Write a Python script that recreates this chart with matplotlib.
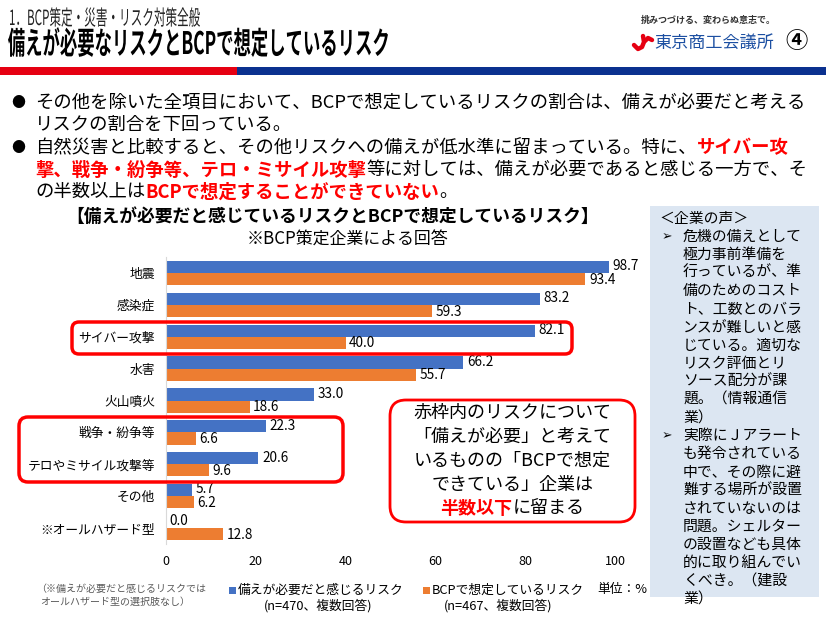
import matplotlib
matplotlib.use('Agg')
import numpy as np
import matplotlib.pyplot as plt
from matplotlib.patches import FancyBboxPatch, Rectangle, PathPatch
from matplotlib.textpath import TextPath
from matplotlib.font_manager import FontProperties
from matplotlib.transforms import Affine2D
from matplotlib.lines import Line2D

plt.rcParams['font.family'] = ['Noto Sans CJK JP', 'DejaVu Sans']

W, H = 826, 620

# データ
categories = ['地震', '感染症', 'サイバー攻撃', '水害', '火山噴火',
              '戦争・紛争等', 'テロやミサイル攻撃等', 'その他', '※オールハザード型']
need = [98.7, 83.2, 82.1, 66.2, 33.0, 22.3, 20.6, 5.7, 0.0]
bcp = [93.4, 59.3, 40.0, 55.7, 18.6, 6.6, 9.6, 6.2, 12.8]
xticks = [0, 20, 40, 60, 80, 100]

legend_need = '備えが必要だと感じるリスク'
legend_bcp = 'BCPで想定しているリスク'
n_need = '(n=470、複数回答)'
n_bcp = '(n=467、複数回答)'

voice_lines = [
    '危機の備えとして', '極力事前準備を', '行っているが、準', '備のためのコスト',
    'ト、工数とのバラ', 'ンスが難しいと感', 'じている。適切な', 'リスク評価とリ',
    'ソース配分が課', '題。（情報通信', '業）',
    '実際にＪアラート', 'も発令されている', '中で、その際に避', '難する場所が設置',
    'されていないのは', '問題。シェルター', 'の設置なども具体', '的に取り組んでい',
    'くべき。（建設', '業）',
]
voice_bullets = [0, 11]

BLUE = '#4472C4'
ORANGE = '#ED7D31'
RED = '#FF0000'

fig = plt.figure(figsize=(W / 100, H / 100), dpi=100)
px = Affine2D().scale(1 / W, 1 / H) + fig.transFigure


def fx(x):
    return x / W


def fy(y):
    return 1 - y / H


def txt(x, y, s, size, **kw):
    kw.setdefault('va', 'center')
    return fig.text(fx(x), fy(y), s, fontsize=size, **kw)


def rich(x, y, parts, size, center=False):
    r = fig.canvas.get_renderer()
    items = []
    for s, color, weight in parts:
        t = txt(0, y, s, size, color=color, fontweight=weight)
        bb = t.get_window_extent(r)
        items.append((t, bb.width))
    if center:
        x = x - sum(w for _, w in items) / 2
    for t, w in items:
        t.set_x(fx(x))
        x += w


def squeezed(x, y, s, size, width, color, bold=True):
    # 縦長フォントの見出し用
    fp = FontProperties(family='Noto Sans CJK JP', weight='bold' if bold else 'normal')
    tp = TextPath((0, 0), s, size=size, prop=fp)
    ext = tp.get_extents()
    tr = Affine2D().translate(-ext.x0, 0).scale(width / ext.width, 1).translate(x, H - y) + px
    fig.add_artist(PathPatch(tp, transform=tr, fc=color, lw=0))


def rbox(x0, y0, x1, y1, r, **kw):
    p = FancyBboxPatch((x0, H - y1), x1 - x0, y1 - y0,
                       boxstyle=f'round,pad=0,rounding_size={r}', transform=px, **kw)
    fig.add_artist(p)


# ヘッダー
squeezed(10, 25, '1．BCP策定・災害・リスク対策全般', 21, 190, '#222222', bold=False)
squeezed(8, 54, '備えが必要なリスクとBCPで想定しているリスク', 31, 380, '#000000')

txt(641, 20, '挑みつづける、変わらぬ意志で。', 6.5, color='#333333', fontweight='bold')
txt(654, 43, '東京商工会議所', 12.3, color='#1D50A2')
fig.add_artist(Line2D([fx(634), fx(638), fx(642), fx(644), fx(643)],
                      [fy(45), fy(49), fy(47), fy(42), fy(36)],
                      color='#E60012', lw=3.2, solid_capstyle='round'))
fig.add_artist(Line2D([fx(645), fx(648), fx(652)], [fy(41), fy(38), fy(40)],
                      color='#E60012', lw=3.2, solid_capstyle='round'))
txt(796, 42, '④', 16, ha='center', fontweight='bold')

fig.add_artist(Rectangle((0, H - 75), 237, 8, transform=px, fc='#E60012', lw=0))
fig.add_artist(Rectangle((237, H - 75), W - 237, 8, transform=px, fc='#0B318F', lw=0))

# 箇条書き
fs = 13.2
for yy in (103, 148):
    txt(11, yy, '●', 10)
rich(35, 103, [('その他を除いた全項目において、BCPで想定しているリスクの割合は、備えが必要だと考える', 'black', 'normal')], fs)
rich(35, 125, [('リスクの割合を下回っている。', 'black', 'normal')], fs)
rich(35, 148, [('自然災害と比較すると、その他リスクへの備えが低水準に留まっている。特に、', 'black', 'normal'),
               ('サイバー攻', RED, 'bold')], fs)
rich(35, 170, [('撃、戦争・紛争等、テロ・ミサイル攻撃', RED, 'bold'),
               ('等に対しては、備えが必要であると感じる一方で、そ', 'black', 'normal')], fs)
rich(35, 192, [('の半数以上は', 'black', 'normal'), ('BCPで想定することができていない', RED, 'bold'),
               ('。', 'black', 'normal')], fs)

# グラフタイトル
txt(333, 217, '【備えが必要だと感じているリスクとBCPで想定しているリスク】', 12.8,
    ha='center', fontweight='bold')
txt(347, 240, '※BCP策定企業による回答', 12.2, ha='center')

# 棒グラフ
ax = fig.add_axes([fx(166), fy(544), fx(615) - fx(166), (544 - 257) / H])
y = np.arange(len(categories))
h = 0.38
ax.barh(y - h / 2, need, height=h, color=BLUE)
ax.barh(y + h / 2, bcp, height=h, color=ORANGE)
for i in range(len(categories)):
    ax.text(need[i] + 0.8, y[i] - h / 2 - 0.02, f'{need[i]:.1f}', va='center', fontsize=9.8)
    ax.text(bcp[i] + 0.8, y[i] + h / 2 + 0.02, f'{bcp[i]:.1f}', va='center', fontsize=9.8)
ax.set_xlim(0, 100)
ax.set_ylim(len(categories) - 0.5, -0.5)
ax.set_xticks(xticks)
ax.set_yticks(y)
ax.set_yticklabels(categories)
for s in ('top', 'right', 'bottom'):
    ax.spines[s].set_visible(False)
ax.spines['left'].set_color('#D9D9D9')
ax.tick_params(axis='x', length=0, pad=8, labelsize=9)
ax.tick_params(axis='y', length=0, pad=8, labelsize=9.2)
ax.patch.set_alpha(0)

# 赤枠
rbox(72, 322, 572, 354, 7, fc='none', ec=RED, lw=2.5)
rbox(19, 417, 343, 482, 9, fc='none', ec=RED, lw=2.5)

# 吹き出し
rbox(390, 400, 635, 522, 16, fc='white', ec=RED, lw=2)
cx = 512.5
for s, yy in [('赤枠内のリスクについて', 413), ('「備えが必要」と考えて', 437),
              ('いるものの「BCPで想定', 461), ('できている」企業は', 485)]:
    txt(cx, yy, s, 13, ha='center')
rich(cx, 508, [('半数以下', RED, 'bold'), ('に留まる', 'black', 'normal')], 13, center=True)

# 凡例
fig.add_artist(Rectangle((229, H - 594), 7, 7, transform=px, fc=BLUE, lw=0))
txt(238, 590, legend_need, 9.2)
txt(318, 606, n_need, 9.2, ha='center')
fig.add_artist(Rectangle((423, H - 594), 7, 7, transform=px, fc=ORANGE, lw=0))
txt(432, 590, legend_bcp, 9.2)
txt(498, 606, n_bcp, 9.2, ha='center')
txt(597, 590, '単位：%', 9.2)
txt(36, 589, '（※備えが必要だと感じるリスクでは', 7.2, color='#595959')
txt(40, 602, 'オールハザード型の選択肢なし）', 7.2, color='#595959')

# 企業の声
fig.add_artist(Rectangle((650, H - 597), 169, 391, transform=px, fc='#DCE6F2', lw=0))
txt(659, 219, '＜企業の声＞', 10.7)
step = 18.1
for k, s in enumerate(voice_lines):
    yy = 219 + step * (k + 1)
    if k in voice_bullets:
        txt(662, yy, '➢', 9)
    txt(683, yy, s, 10.7)

fig.savefig('out.png', dpi=100)
